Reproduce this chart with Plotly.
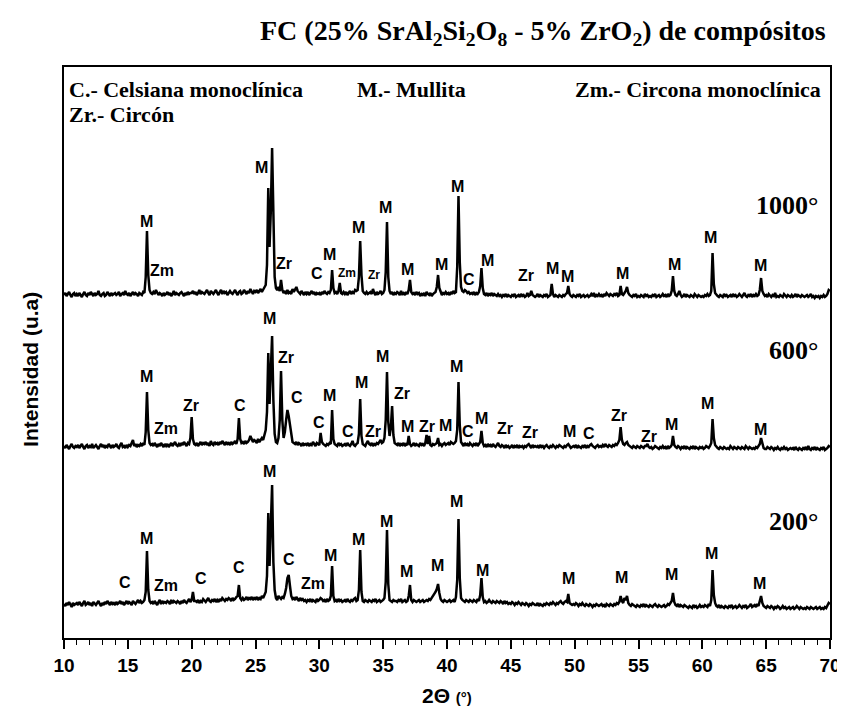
import plotly.graph_objects as go

# ---------------- data (intensity, arbitrary units) -------------
# one row = 1 degree of 2-theta, ten readings at 0.1 deg steps
I_1000 = {
    10: [4, 6, 3, 5, 7, 4, 2, 5, 6, 3],
    11: [5, 3, 6, 4, 2, 5, 7, 4, 3, 6],
    12: [4, 7, 5, 3, 6, 4, 5, 8, 4, 3],
    13: [5, 6, 3, 4, 7, 5, 3, 6, 4, 5],
    14: [6, 4, 5, 7, 3, 5, 6, 4, 8, 5],
    15: [4, 6, 3, 5, 7, 4, 6, 5, 3, 6],
    16: [5, 4, 7, 6, 22, 68, 24, 9, 6, 5],
    17: [7, 5, 9, 6, 4, 6, 5, 3, 6, 4],
    18: [5, 7, 4, 6, 3, 5, 8, 4, 6, 5],
    19: [4, 6, 7, 5, 3, 6, 4, 7, 5, 6],
    20: [6, 8, 5, 7, 4, 6, 9, 5, 7, 6],
    21: [5, 7, 9, 6, 4, 8, 6, 5, 7, 9],
    22: [6, 4, 7, 9, 5, 8, 6, 7, 4, 6],
    23: [8, 6, 5, 7, 9, 6, 4, 7, 8, 5],
    24: [6, 9, 7, 5, 8, 6, 10, 7, 5, 8],
    25: [7, 9, 6, 8, 10, 7, 9, 11, 14, 34],
    26: [111, 52, 88, 151, 62, 22, 11, 9, 12, 8],
    27: [19, 9, 6, 8, 5, 9, 6, 7, 5, 10],
    28: [7, 9, 12, 8, 6, 5, 8, 6, 4, 7],
    29: [5, 7, 4, 6, 8, 5, 7, 4, 6, 5],
    30: [6, 4, 7, 5, 8, 6, 5, 7, 6, 9],
    31: [29, 11, 6, 7, 5, 8, 16, 6, 5, 7],
    32: [5, 7, 4, 6, 8, 5, 7, 6, 9, 8],
    33: [9, 22, 58, 24, 8, 6, 5, 7, 5, 6],
    34: [7, 5, 10, 6, 4, 7, 5, 6, 8, 5],
    35: [6, 9, 27, 77, 22, 8, 5, 7, 4, 6],
    36: [5, 7, 6, 4, 8, 5, 6, 4, 7, 5],
    37: [9, 19, 7, 5, 6, 4, 7, 5, 6, 3],
    38: [5, 4, 6, 3, 7, 5, 4, 6, 3, 5],
    39: [6, 7, 12, 24, 11, 6, 4, 6, 5, 7],
    40: [5, 6, 4, 7, 5, 8, 6, 7, 32, 103],
    41: [37, 12, 8, 7, 9, 8, 6, 7, 5, 6],
    42: [5, 7, 4, 6, 5, 7, 13, 31, 11, 5],
    43: [4, 6, 3, 5, 4, 6, 3, 5, 4, 3],
    44: [5, 3, 4, 2, 4, 3, 5, 2, 4, 3],
    45: [2, 4, 3, 5, 2, 3, 4, 2, 5, 3],
    46: [4, 2, 3, 6, 3, 4, 8, 4, 3, 2],
    47: [3, 5, 2, 4, 3, 2, 4, 3, 5, 2],
    48: [3, 4, 15, 5, 2, 4, 3, 2, 4, 3],
    49: [2, 4, 3, 5, 6, 13, 5, 3, 2, 4],
    50: [3, 2, 4, 3, 5, 2, 3, 4, 2, 3],
    51: [4, 2, 3, 5, 3, 6, 2, 4, 3, 5],
    52: [3, 4, 2, 5, 3, 6, 4, 3, 5, 4],
    53: [3, 5, 4, 6, 3, 4, 13, 5, 4, 6],
    54: [8, 12, 6, 4, 3, 2, 4, 3, 5, 2],
    55: [3, 2, 4, 3, 2, 5, 3, 4, 2, 3],
    56: [2, 4, 3, 5, 2, 3, 4, 2, 3, 5],
    57: [3, 4, 2, 5, 3, 4, 8, 23, 8, 4],
    58: [3, 5, 8, 4, 2, 3, 5, 2, 4, 3],
    59: [2, 4, 3, 2, 5, 3, 2, 4, 3, 2],
    60: [3, 2, 4, 3, 5, 3, 4, 8, 46, 15],
    61: [6, 4, 3, 2, 4, 3, 2, 5, 3, 4],
    62: [2, 3, 4, 2, 5, 3, 4, 2, 3, 5],
    63: [3, 2, 4, 6, 3, 2, 4, 3, 5, 2],
    64: [4, 3, 5, 3, 4, 9, 21, 8, 5, 3],
    65: [4, 2, 5, 3, 2, 4, 3, 6, 2, 3],
    66: [2, 4, 3, 2, 5, 3, 2, 4, 3, 2],
    67: [4, 2, 3, 5, 2, 4, 3, 2, 4, 3],
    68: [2, 3, 4, 2, 3, 5, 2, 3, 1, 3],
    69: [2, 3, 1, 3, 2, 4, 2, 3, 5, 9],
    70: [8],
}

I_600 = {
    10: [6, 4, 7, 5, 3, 6, 8, 5, 4, 6],
    11: [5, 7, 4, 6, 8, 5, 3, 6, 7, 4],
    12: [6, 5, 8, 4, 6, 7, 5, 3, 6, 8],
    13: [5, 7, 4, 6, 5, 8, 6, 4, 7, 5],
    14: [6, 8, 5, 4, 7, 9, 5, 6, 4, 7],
    15: [5, 7, 6, 9, 12, 6, 8, 5, 7, 6],
    16: [8, 6, 9, 7, 20, 60, 22, 9, 7, 8],
    17: [6, 9, 7, 5, 8, 6, 9, 7, 5, 8],
    18: [6, 8, 5, 7, 9, 6, 8, 10, 7, 6],
    19: [8, 6, 9, 7, 10, 8, 6, 9, 8, 14],
    20: [35, 13, 8, 7, 9, 6, 8, 10, 7, 9],
    21: [8, 10, 7, 9, 6, 11, 8, 7, 10, 8],
    22: [9, 7, 10, 8, 11, 9, 7, 10, 8, 9],
    23: [7, 10, 8, 9, 11, 8, 13, 34, 13, 9],
    24: [10, 8, 11, 9, 10, 12, 16, 13, 10, 12],
    25: [11, 9, 13, 10, 12, 14, 12, 16, 22, 40],
    26: [99, 48, 80, 116, 52, 18, 10, 9, 14, 32],
    27: [81, 32, 14, 20, 32, 42, 36, 26, 15, 10],
    28: [9, 8, 10, 7, 9, 8, 6, 9, 7, 8],
    29: [7, 9, 6, 8, 7, 10, 8, 6, 9, 8],
    30: [7, 19, 10, 8, 7, 6, 8, 7, 9, 8],
    31: [42, 13, 8, 7, 6, 9, 7, 8, 6, 7],
    32: [8, 6, 9, 7, 6, 8, 11, 7, 6, 8],
    33: [9, 18, 53, 16, 8, 7, 6, 9, 11, 8],
    34: [7, 9, 6, 8, 7, 9, 8, 10, 12, 9],
    35: [10, 14, 32, 80, 30, 16, 24, 46, 17, 9],
    36: [8, 7, 9, 6, 8, 7, 9, 6, 8, 7],
    37: [16, 8, 6, 7, 9, 6, 8, 7, 6, 9],
    38: [7, 8, 6, 9, 17, 8, 16, 7, 6, 8],
    39: [7, 8, 9, 14, 7, 8, 6, 8, 9, 7],
    40: [8, 9, 7, 10, 9, 8, 9, 11, 22, 70],
    41: [27, 10, 8, 6, 9, 7, 8, 6, 9, 7],
    42: [6, 8, 7, 9, 6, 8, 10, 21, 9, 6],
    43: [7, 5, 8, 6, 7, 5, 8, 6, 5, 7],
    44: [9, 6, 5, 7, 6, 4, 7, 5, 6, 4],
    45: [5, 7, 4, 6, 5, 7, 4, 6, 5, 6],
    46: [4, 6, 5, 7, 8, 6, 4, 7, 5, 6],
    47: [5, 6, 4, 7, 5, 6, 4, 6, 7, 5],
    48: [4, 6, 5, 7, 5, 4, 6, 5, 7, 6],
    49: [5, 4, 6, 5, 7, 8, 6, 4, 5, 6],
    50: [5, 7, 4, 6, 5, 4, 6, 5, 7, 4],
    51: [6, 5, 7, 8, 6, 5, 4, 6, 7, 5],
    52: [6, 5, 7, 5, 8, 6, 5, 7, 6, 5],
    53: [7, 6, 8, 7, 9, 12, 25, 12, 8, 7],
    54: [9, 10, 7, 6, 5, 4, 6, 5, 4, 6],
    55: [5, 4, 6, 5, 4, 6, 6, 8, 5, 4],
    56: [5, 3, 4, 6, 5, 4, 3, 5, 4, 6],
    57: [4, 5, 3, 6, 4, 5, 7, 16, 7, 5],
    58: [4, 6, 5, 3, 5, 4, 6, 3, 5, 4],
    59: [3, 5, 4, 6, 3, 5, 4, 3, 5, 4],
    60: [5, 3, 4, 6, 5, 4, 6, 9, 33, 14],
    61: [7, 5, 4, 3, 5, 4, 3, 5, 4, 3],
    62: [4, 3, 6, 4, 3, 5, 4, 3, 5, 4],
    63: [3, 5, 4, 3, 6, 4, 3, 5, 4, 3],
    64: [4, 3, 5, 4, 6, 8, 14, 7, 4, 3],
    65: [3, 5, 4, 3, 5, 4, 2, 4, 3, 5],
    66: [3, 2, 4, 3, 5, 3, 4, 2, 3, 4],
    67: [3, 4, 2, 5, 3, 2, 4, 3, 2, 4],
    68: [3, 5, 2, 6, 3, 2, 4, 3, 5, 2],
    69: [4, 3, 2, 4, 3, 5, 2, 3, 4, 6],
    70: [5],
}

I_200 = {
    10: [6, 4, 7, 5, 8, 6, 3, 7, 5, 6],
    11: [7, 5, 8, 6, 4, 7, 9, 5, 6, 8],
    12: [5, 7, 4, 8, 6, 5, 7, 9, 6, 4],
    13: [7, 5, 8, 6, 9, 7, 5, 8, 6, 7],
    14: [5, 8, 6, 7, 9, 6, 8, 5, 7, 9],
    15: [6, 8, 7, 5, 9, 7, 6, 8, 10, 7],
    16: [9, 7, 8, 10, 18, 59, 20, 9, 7, 8],
    17: [6, 9, 7, 5, 8, 10, 6, 9, 7, 8],
    18: [7, 9, 8, 6, 10, 7, 9, 8, 7, 9],
    19: [8, 6, 9, 7, 10, 8, 7, 9, 11, 8],
    20: [10, 18, 9, 9, 8, 10, 7, 9, 8, 11],
    21: [9, 8, 10, 12, 9, 8, 10, 9, 11, 8],
    22: [10, 8, 11, 9, 12, 10, 9, 11, 10, 12],
    23: [11, 9, 12, 10, 11, 13, 14, 25, 12, 10],
    24: [12, 10, 11, 13, 10, 12, 11, 13, 10, 12],
    25: [11, 13, 10, 12, 11, 14, 12, 15, 18, 34],
    26: [97, 44, 76, 125, 48, 20, 12, 10, 14, 12],
    27: [11, 13, 12, 16, 22, 32, 35, 24, 14, 11],
    28: [12, 10, 13, 11, 9, 12, 10, 11, 9, 10],
    29: [8, 10, 9, 11, 8, 10, 9, 8, 11, 9],
    30: [10, 12, 11, 9, 10, 8, 11, 9, 10, 14],
    31: [44, 14, 9, 10, 8, 11, 9, 10, 8, 9],
    32: [10, 8, 11, 9, 8, 10, 9, 11, 12, 9],
    33: [10, 20, 60, 18, 9, 8, 10, 9, 8, 10],
    34: [9, 8, 10, 9, 11, 8, 9, 10, 8, 9],
    35: [10, 12, 28, 80, 26, 10, 9, 8, 10, 9],
    36: [9, 8, 10, 9, 11, 8, 9, 10, 8, 9],
    37: [14, 25, 10, 8, 10, 9, 8, 9, 10, 8],
    38: [9, 10, 8, 9, 10, 9, 11, 10, 12, 13],
    39: [16, 18, 21, 26, 17, 11, 9, 8, 10, 9],
    40: [8, 9, 10, 8, 9, 10, 8, 13, 30, 91],
    41: [32, 12, 10, 9, 8, 10, 9, 8, 10, 9],
    42: [8, 10, 9, 8, 11, 9, 15, 32, 13, 8],
    43: [9, 7, 8, 10, 8, 7, 9, 8, 7, 9],
    44: [8, 7, 9, 8, 6, 9, 7, 8, 6, 7],
    45: [6, 8, 7, 5, 7, 6, 8, 6, 5, 7],
    46: [6, 5, 7, 6, 4, 6, 5, 7, 6, 5],
    47: [5, 7, 4, 6, 5, 4, 6, 5, 7, 6],
    48: [5, 7, 6, 8, 6, 5, 7, 6, 8, 9],
    49: [7, 6, 8, 9, 8, 16, 7, 6, 5, 6],
    50: [5, 7, 6, 4, 6, 5, 7, 5, 4, 6],
    51: [5, 4, 6, 5, 3, 5, 4, 6, 5, 4],
    52: [5, 6, 4, 5, 3, 6, 5, 4, 6, 5],
    53: [4, 6, 5, 7, 6, 8, 14, 9, 7, 12],
    54: [10, 14, 7, 5, 4, 6, 5, 4, 3, 5],
    55: [4, 3, 5, 4, 6, 3, 5, 4, 3, 5],
    56: [4, 3, 5, 6, 4, 3, 5, 4, 3, 4],
    57: [5, 3, 4, 6, 5, 7, 9, 17, 8, 5],
    58: [4, 6, 3, 5, 4, 3, 5, 4, 3, 2],
    59: [4, 3, 2, 5, 3, 4, 2, 3, 5, 3],
    60: [4, 3, 5, 4, 3, 6, 4, 10, 40, 15],
    61: [7, 4, 3, 5, 2, 4, 3, 2, 4, 3],
    62: [2, 4, 3, 5, 2, 3, 4, 2, 3, 5],
    63: [3, 2, 4, 3, 5, 2, 3, 4, 6, 3],
    64: [4, 5, 3, 6, 4, 8, 14, 7, 4, 3],
    65: [2, 4, 3, 2, 4, 3, 1, 3, 2, 4],
    66: [3, 1, 2, 4, 2, 3, 1, 2, 3, 1],
    67: [2, 3, 1, 2, 4, 2, 1, 3, 2, 1],
    68: [2, 1, 3, 2, 1, 3, 2, 1, 2, 3],
    69: [1, 2, 3, 1, 2, 1, 3, 2, 4, 7],
    70: [6],
}

# vertical stacking offset of each pattern (arbitrary units)
OFFSETS = {"1000°": 339, "600°": 186, "200°": 28}

# phase labels: (text, 2-theta, height above the pattern offset)
LABELS_1000 = [
    ("M", 16.46, 78), ("Zm", 17.7, 29), ("M", 25.44, 132), ("Zr", 27.23, 36),
    ("C", 29.78, 26), ("M", 30.79, 45), ("Zm", 32.18, 26), ("M", 33.03, 72),
    ("Zr", 34.27, 24), ("M", 35.2, 92), ("M", 36.9, 30), ("M", 39.54, 35),
    ("M", 40.85, 113), ("C", 41.7, 20), ("M", 43.17, 39), ("Zr", 46.19, 24),
    ("M", 48.28, 31), ("M", 49.44, 23), ("M", 53.78, 26), ("M", 57.81, 35),
    ("M", 60.67, 62), ("M", 64.54, 34),
]
LABELS_600 = [
    ("M", 16.46, 76), ("Zm", 18.01, 24), ("Zr", 19.95, 47), ("C", 23.82, 47),
    ("M", 26.06, 134), ("Zr", 27.38, 95), ("C", 28.23, 55), ("C", 30.01, 30),
    ("M", 30.79, 57), ("C", 32.26, 21), ("M", 33.34, 70), ("Zr", 34.19, 21),
    ("M", 34.97, 96), ("Zr", 36.44, 59), ("M", 36.9, 26), ("Zr", 38.45, 26),
    ("M", 39.92, 27), ("M", 40.77, 86), ("C", 41.63, 21), ("M", 42.71, 34),
    ("Zr", 44.57, 24), ("Zr", 46.5, 20), ("M", 49.6, 21), ("C", 51.15, 19),
    ("Zr", 53.47, 37), ("Zr", 55.8, 16), ("M", 57.57, 28), ("M", 60.44, 49),
    ("M", 64.54, 23),
]
LABELS_200 = [
    ("C", 14.77, 28), ("M", 16.46, 72), ("Zm", 18.01, 25), ("C", 20.72, 32),
    ("C", 23.74, 43), ("M", 26.06, 139), ("C", 27.61, 51), ("Zm", 29.47, 27),
    ("M", 30.86, 55), ("M", 33.03, 71), ("M", 35.28, 89), ("M", 36.83, 39),
    ("M", 39.23, 45), ("M", 40.77, 109), ("M", 42.79, 40), ("M", 49.52, 32),
    ("M", 53.7, 33), ("M", 57.57, 36), ("M", 60.75, 57), ("M", 64.47, 27),
]
SMALL_LABELS_1000 = {("Zm", 32.18), ("Zr", 34.27)}

TEMP_LABEL_HEIGHT = {"1000°": 94, "600°": 102, "200°": 89}

LEGEND_ROW1 = ["C.- Celsiana monoclínica", "M.- Mullita", "Zm.- Circona monoclínica"]
LEGEND_ROW2 = ["Zr.- Circón"]
TITLE = "FC (25% SrAl<sub>2</sub>Si<sub>2</sub>O<sub>8</sub> - 5% ZrO<sub>2</sub>) de compósitos"
X_TITLE = "2Θ"
X_TITLE_UNIT = "(°)"
Y_TITLE = "Intensidad (u.a)"

SANS = "Liberation Sans, Arial, sans-serif"
SERIF = "Liberation Serif, Times New Roman, serif"


def unpack(rows):
    xs, ys = [], []
    for deg in sorted(rows):
        for j, v in enumerate(rows[deg]):
            xs.append(round(deg + 0.1 * j, 1))
            ys.append(v)
    return xs, ys


fig = go.Figure()
patterns = [("200°", I_200, LABELS_200), ("600°", I_600, LABELS_600), ("1000°", I_1000, LABELS_1000)]
annotations = []
for name, rows, labels in patterns:
    xs, ys = unpack(rows)
    off = OFFSETS[name]
    fig.add_trace(go.Scatter(
        x=xs, y=[v + off for v in ys], mode="lines", name=name,
        line=dict(color="black", width=2.5), showlegend=False, hoverinfo="skip",
    ))
    for txt, tx, h in labels:
        small = name == "1000°" and (txt, tx) in SMALL_LABELS_1000
        annotations.append(dict(
            x=tx, y=off + h, xref="x", yref="y", text=f"<b>{txt}</b>", showarrow=False,
            font=dict(family=SANS, size=12 if small else 16, color="black"),
            xanchor="center", yanchor="middle",
        ))
    annotations.append(dict(
        x=0.987, xref="paper", y=off + TEMP_LABEL_HEIGHT[name], yref="y",
        text=f"<b>{name}</b>", showarrow=False, xanchor="right", yanchor="middle",
        font=dict(family=SERIF, size=26, color="black"),
    ))

# title + legend text
annotations.append(dict(
    x=0.997, y=1.06, xref="paper", yref="paper", text=f"<b>{TITLE}</b>", showarrow=False,
    xanchor="right", yanchor="middle", font=dict(family=SERIF, size=28, color="black"),
))
row1_pos = [(0.004, "left"), (0.38, "left"), (0.991, "right")]
for txt, (px, anc) in zip(LEGEND_ROW1, row1_pos):
    annotations.append(dict(
        x=px, y=0.96, xref="paper", yref="paper", text=f"<b>{txt}</b>", showarrow=False,
        xanchor=anc, yanchor="middle", font=dict(family=SERIF, size=22, color="black"),
    ))
annotations.append(dict(
    x=0.004, y=0.916, xref="paper", yref="paper", text=f"<b>{LEGEND_ROW2[0]}</b>", showarrow=False,
    xanchor="left", yanchor="middle", font=dict(family=SERIF, size=22, color="black"),
))
# axis titles
annotations.append(dict(
    x=0.5, y=-0.1, xref="paper", yref="paper",
    text=f"<b>{X_TITLE}</b> <span style='font-size:15px'><b>{X_TITLE_UNIT}</b></span>",
    showarrow=False, xanchor="center", yanchor="middle",
    font=dict(family=SANS, size=21, color="black"),
))
annotations.append(dict(
    x=-0.044, y=0.47, xref="paper", yref="paper", text=f"<b>{Y_TITLE}</b>", showarrow=False,
    textangle=-90, xanchor="center", yanchor="middle",
    font=dict(family=SANS, size=21, color="black"),
))

fig.update_layout(
    width=845, height=707,
    margin=dict(l=56, r=15, t=59, b=77),
    paper_bgcolor="white", plot_bgcolor="white",
    annotations=annotations,
    xaxis=dict(
        range=[10, 70], dtick=5, tick0=10, ticks="outside", ticklen=9, tickwidth=1.5,
        tickcolor="black", showline=True, mirror=True, linecolor="black", linewidth=2,
        showgrid=False, zeroline=False,
        tickfont=dict(family=SANS, size=19, color="black", weight="bold"),
        minor=dict(dtick=1, ticks="outside", ticklen=5, tickwidth=1.2, tickcolor="black"),
    ),
    yaxis=dict(
        range=[0, 571], showticklabels=False, ticks="", showline=True, mirror=True,
        linecolor="black", linewidth=2, showgrid=False, zeroline=False,
    ),
)

fig.write_html("out.html")
